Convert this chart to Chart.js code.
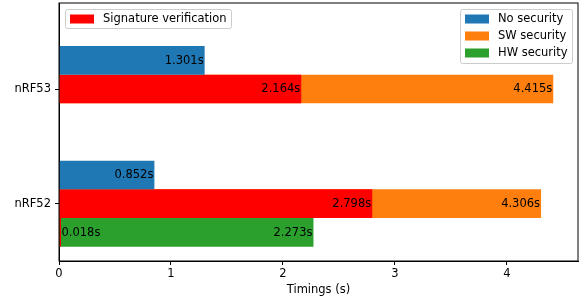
<!DOCTYPE html>
<html>
<head>
<meta charset="utf-8">
<script src="https://cdn.jsdelivr.net/npm/chart.js@4"></script>
<style>
  html, body { margin: 0; padding: 0; background: #fff; }
  #wrap { position: relative; width: 582px; height: 301px; }
</style>
</head>
<body>
<div id="wrap"><canvas id="timings-chart"></canvas></div>
<script>
// categories from bottom (y = 0) to top (y = 1)
const categories = ["nRF52", "nRF53"];
const noSecurity = [0.852, 1.301];
const swSecurity = [4.306, 4.415];
const hwSecurity = [2.273, null];
const sigVerifSw = [2.798, 2.164];
const sigVerifHw = [0.018, null];
const xTicks = [0, 1, 2, 3, 4];

const FONT = "'DejaVu Sans', sans-serif";
const FSIZE = 11.5;

function points(values) {
  return categories.map((c, i) => ({ y: i, x: values[i] }));
}

const framePlugin = {
  id: "frame",
  afterDatasetsDraw(chart) {
    const ctx = chart.ctx;
    // bar value labels
    ctx.save();
    ctx.font = FSIZE + "px " + FONT;
    ctx.fillStyle = "#000";
    ctx.textBaseline = "middle";
    chart.data.datasets.forEach((ds, di) => {
      const meta = chart.getDatasetMeta(di);
      meta.data.forEach((el, i) => {
        const v = ds.data[i].x;
        if (v === null || v === undefined) return;
        const txt = v.toFixed(3) + "s";
        const w = ctx.measureText(txt).width;
        const barW = el.x - el.base;
        if (w + 2 < barW) {
          ctx.textAlign = "right";
          ctx.fillText(txt, el.x - 1, el.y + 0.5);
        } else {
          ctx.textAlign = "left";
          ctx.fillText(txt, el.x + 0.5, el.y + 0.5);
        }
      });
    });
    ctx.restore();
  },
  afterDraw(chart) {
    const ctx = chart.ctx;
    const a = chart.chartArea;
    ctx.save();
    ctx.strokeStyle = "#000";
    ctx.lineWidth = 1;
    ctx.strokeRect(a.left, a.top, a.right - a.left, a.bottom - a.top);

    function legendBox(x, y, w, h, items) {
      ctx.beginPath();
      ctx.roundRect(x, y, w, h, 2);
      ctx.fillStyle = "rgba(255,255,255,0.8)";
      ctx.fill();
      ctx.strokeStyle = "#cccccc";
      ctx.lineWidth = 1;
      ctx.stroke();
      ctx.font = FSIZE + "px " + FONT;
      ctx.textBaseline = "middle";
      ctx.textAlign = "left";
      items.forEach((it, k) => {
        const cy = y + 9.5 + k * 17;
        ctx.fillStyle = it.color;
        ctx.fillRect(x + 4.5, cy - 4.5, 24, 9);
        ctx.fillStyle = "#000";
        ctx.fillText(it.label, x + 37.5, cy + 0.5);
      });
    }
    legendBox(65.5, 9.5, 166, 19, [{ color: "#ff0000", label: "Signature verification" }]);
    legendBox(460.5, 9.5, 112, 54, [
      { color: "#1f77b4", label: "No security" },
      { color: "#ff7f0e", label: "SW security" },
      { color: "#2ca02c", label: "HW security" }
    ]);
    ctx.restore();
  }
};

// dataset order: earlier datasets are drawn on top, and slots follow first appearance of each stack
const config = {
  type: "bar",
  data: {
    datasets: [
      { label: "No security", data: points(noSecurity), backgroundColor: "#1f77b4", stack: "none" },
      { label: "Signature verification", data: points(sigVerifSw), backgroundColor: "#ff0000", stack: "sw" },
      { label: "Signature verification", data: points(sigVerifHw), backgroundColor: "#ff0000", stack: "hw" },
      { label: "SW security", data: points(swSecurity), backgroundColor: "#ff7f0e", stack: "sw" },
      { label: "HW security", data: points(hwSecurity), backgroundColor: "#2ca02c", stack: "hw" }
    ]
  },
  options: {
    indexAxis: "y",
    responsive: true,
    maintainAspectRatio: false,
    animation: false,
    categoryPercentage: 0.75,
    barPercentage: 1,
    layout: { padding: { left: 0, top: 3, right: 4, bottom: 0 } },
    plugins: {
      legend: { display: false },
      tooltip: { enabled: false }
    },
    scales: {
      x: {
        type: "linear",
        stacked: false,
        min: 0,
        max: 4.636,
        afterBuildTicks: (scale) => { scale.ticks = xTicks.map(v => ({ value: v })); },
        afterFit: (scale) => { scale.height = 40; scale.paddingLeft = 0; scale.paddingRight = 0; },
        ticks: { color: "#000", font: { family: FONT, size: FSIZE }, padding: 2 },
        grid: { drawOnChartArea: false, drawTicks: true, tickLength: 4, color: "#000" },
        border: { display: true, color: "#000" },
        title: { display: true, text: "Timings (s)", color: "#000", font: { family: FONT, size: FSIZE }, padding: { top: 2, bottom: 4 } }
      },
      y: {
        type: "linear",
        offset: false,
        min: -0.5,
        max: 1.75,
        afterBuildTicks: (scale) => { scale.ticks = categories.map((c, i) => ({ value: i })); },
        afterFit: (scale) => { scale.width = 59; scale.paddingTop = 0; scale.paddingBottom = 0; },
        ticks: { color: "#000", font: { family: FONT, size: FSIZE }, padding: 4, callback: (v) => categories[v] },
        grid: { offset: false, drawOnChartArea: false, drawTicks: true, tickLength: 4, color: "#000" },
        border: { display: true, color: "#000" }
      }
    }
  },
  plugins: [framePlugin]
};

new Chart(document.getElementById("timings-chart").getContext("2d"), config);
</script>
</body>
</html>
